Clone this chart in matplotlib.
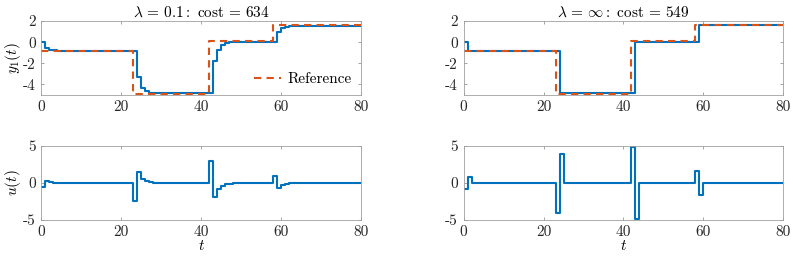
import numpy as np
import matplotlib
matplotlib.use("Agg")
import matplotlib.pyplot as plt

plt.rcParams["font.family"] = ["cmr10", "DejaVu Serif"]
plt.rcParams["mathtext.fontset"] = "cm"
plt.rcParams["axes.unicode_minus"] = False
plt.rcParams["axes.formatter.use_mathtext"] = False

# reference signal (breakpoints, stairs)
ref_t = [0, 23, 42, 58, 80]
ref_y = [-0.8, -4.9, 0.1, 1.6, 1.6]

# lambda = 0.1 output y1
y_a_t = [0, 1, 2, 3, 4, 24, 25, 26, 27, 28, 43, 44, 45, 46, 47, 48,
         59, 60, 61, 62, 80]
y_a_v = [0.0, -0.55, -0.7, -0.78, -0.8, -3.3, -4.3, -4.65, -4.8, -4.85,
         -1.8, -0.7, -0.25, -0.05, 0.03, 0.06, 0.95, 1.3, 1.45, 1.55, 1.6]

# lambda = inf output y1
y_b_t = [0, 1, 24, 43, 59, 80]
y_b_v = [0.0, -0.8, -4.85, 0.05, 1.6, 1.6]

# lambda = 0.1 input u
u_a_t = [0, 1, 2, 3, 23, 24, 25, 26, 27, 28, 42, 43, 44, 45, 46, 47, 48,
         58, 59, 60, 61, 62, 63, 80]
u_a_v = [-0.55, 0.3, 0.1, 0.02, -2.5, 1.5, 0.5, 0.2, 0.08, 0.0, 3.0, -1.95,
         -0.8, -0.4, -0.18, -0.08, 0.0, 0.95, -0.65, -0.28, -0.12, -0.05,
         0.0, 0.0]

# lambda = inf input u
u_b_t = [0, 1, 2, 23, 24, 25, 42, 43, 44, 58, 59, 60, 80]
u_b_v = [-0.85, 0.75, 0.0, -4.0, 3.9, 0.05, 4.85, -4.9, 0.0, 1.55, -1.6, 0.0, 0.0]

titles = [r"$\lambda\,=\,0.1\mathrm{:\ cost}\,=\,634$",
          r"$\lambda\,=\,\infty\mathrm{:\ cost}\,=\,549$"]

blue = "#0072BD"
orange = "#D95319"
fs = 11

fig = plt.figure(figsize=(7.93, 2.59), dpi=100)
ax1 = fig.add_axes([0.0523, 0.633, 0.4025, 0.286])
ax2 = fig.add_axes([0.5845, 0.633, 0.4035, 0.286])
ax3 = fig.add_axes([0.0523, 0.1506, 0.4025, 0.286])
ax4 = fig.add_axes([0.5845, 0.1506, 0.4035, 0.286])

for ax, yt, yv, title in [(ax1, y_a_t, y_a_v, titles[0]), (ax2, y_b_t, y_b_v, titles[1])]:
    ax.step(yt, yv, where="post", color=blue, lw=1.5)
    ax.step(ref_t, ref_y, where="post", color=orange, lw=1.5, ls=(0, (3.5, 2.5)), label="Reference")
    ax.set_ylim(-5, 2)
    ax.set_yticks([-4, -2, 0, 2])
    ax.set_title(title, fontsize=fs, pad=3)

for ax, ut, uv in [(ax3, u_a_t, u_a_v), (ax4, u_b_t, u_b_v)]:
    ax.step(ut, uv, where="post", color=blue, lw=1.5)
    ax.set_ylim(-5, 5)
    ax.set_yticks([-5, 0, 5])
    ax.set_xlabel(r"$t$", fontsize=fs, labelpad=0)

for ax in [ax1, ax2, ax3, ax4]:
    ax.set_xlim(0, 80)
    ax.set_xticks([0, 20, 40, 60, 80])
    ax.tick_params(direction="in", top=True, right=True, length=2.5, width=0.5,
                   color="#808080", labelsize=fs, labelcolor="#262626", pad=4)
    for s in ax.spines.values():
        s.set_color("#a0a0a0")
        s.set_linewidth(0.6)

ax1.set_ylabel(r"$y_1(t)$", fontsize=fs, labelpad=0)
ax3.set_ylabel(r"$u(t)$", fontsize=fs, labelpad=0)
ax1.legend(loc="lower right", frameon=False, fontsize=fs, handlelength=1.8,
           handletextpad=0.4, borderaxespad=0.2)

fig.savefig("out.png", dpi=100)
